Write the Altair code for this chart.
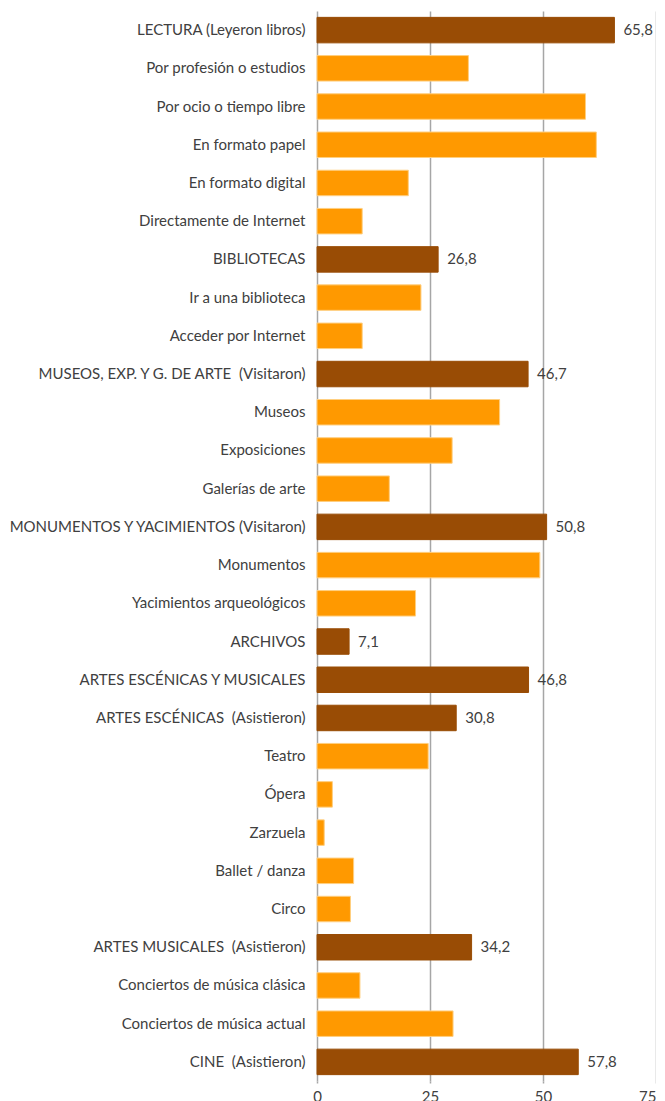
import altair as alt
import pandas as pd

NB = "\u00a0"
categories = [
    "LECTURA (Leyeron libros)", "Por profesión o estudios", "Por ocio o tiempo libre",
    "En formato papel", "En formato digital" + NB, "Directamente de Internet", "BIBLIOTECAS" + NB,
    "Ir a una biblioteca", "Acceder por Internet" + NB,
    "MUSEOS, EXP. Y G. DE ARTE " + NB + "(Visitaron)",
    "Museos", "Exposiciones", "Galerías de arte", "MONUMENTOS Y YACIMIENTOS (Visitaron)",
    "Monumentos", "Yacimientos arqueológicos", "ARCHIVOS" + NB, "ARTES ESCÉNICAS Y MUSICALES" + NB,
    "ARTES ESCÉNICAS " + NB + "(Asistieron)", "Teatro", "Ópera", "Zarzuela", "Ballet / danza",
    "Circo", "ARTES MUSICALES " + NB + "(Asistieron)", "Conciertos de música clásica",
    "Conciertos de música actual", "CINE " + NB + "(Asistieron)",
]
values = [65.8, 33.5, 59.4, 61.8, 20.2, 10.0, 26.8, 23.0, 10.0, 46.7, 40.4, 29.9, 16.0,
          50.8, 49.3, 21.8, 7.1, 46.8, 30.8, 24.6, 3.4, 1.6, 8.1, 7.4, 34.2, 9.5, 30.1, 57.8]
groups = ["main", "sub", "sub", "sub", "sub", "sub", "main", "sub", "sub", "main", "sub",
          "sub", "sub", "main", "sub", "sub", "main", "main", "main", "sub", "sub", "sub",
          "sub", "sub", "main", "sub", "sub", "main"]
x_ticks = [0, 25, 50, 75]

df = pd.DataFrame({"cat": categories, "value": values, "group": groups})
df["label"] = [
    (f"{v:.1f}".replace(".", ",") if g == "main" else "") for v, g in zip(values, groups)
]

FONT = "Lato"
GRID = "#a6a6a6"

y_enc = alt.Y(
    "cat:N", sort=categories, title=None,
    scale=alt.Scale(paddingInner=0.333, paddingOuter=0.1665),
    axis=alt.Axis(domain=False, ticks=False, labelPadding=12, labelFontSize=15,
                  labelColor="#404040", labelFont=FONT, labelLimit=400),
)
x_enc = alt.X(
    "value:Q", title=None,
    scale=alt.Scale(domain=[0, 75], nice=False),
    axis=alt.Axis(values=x_ticks, grid=True, gridColor=GRID, gridWidth=1.5,
                  domain=False, ticks=True, tickColor=GRID, tickWidth=1.5, tickSize=2,
                  labelFlush=False, labelOverlap=False,
                  labelAlign={"condition": {"test": f"datum.value >= {x_ticks[-1]}",
                                            "value": "right"}, "value": "center"},
                  labelPadding=6, labelFontSize=15, labelColor="#404040", labelFont=FONT),
)

bars = alt.Chart(df).mark_bar(strokeWidth=1).encode(
    y=y_enc,
    x=x_enc,
    color=alt.Color("group:N", scale=alt.Scale(domain=["main", "sub"],
                                               range=["#994c05", "#ff9900"]), legend=None),
    stroke=alt.Color("group:N", scale=alt.Scale(domain=["main", "sub"],
                                                range=["#994c05", "#ffcf80"]), legend=None),
)

text = alt.Chart(df).mark_text(align="left", baseline="middle", dx=9, fontSize=15,
                               font=FONT, color="#404040").encode(
    y=alt.Y("cat:N", sort=categories),
    x=alt.X("value:Q"),
    text="label:N",
)

chart = alt.layer(bars, text).resolve_scale(stroke="independent").properties(
    width=339, height=1070,
    autosize=alt.AutoSizeParams(type="none"),
    padding={"left": 309, "top": 3, "right": 0, "bottom": 20},
).configure_view(stroke=None)

chart.save("out.html", embed_options={"renderer": "svg", "actions": False})
